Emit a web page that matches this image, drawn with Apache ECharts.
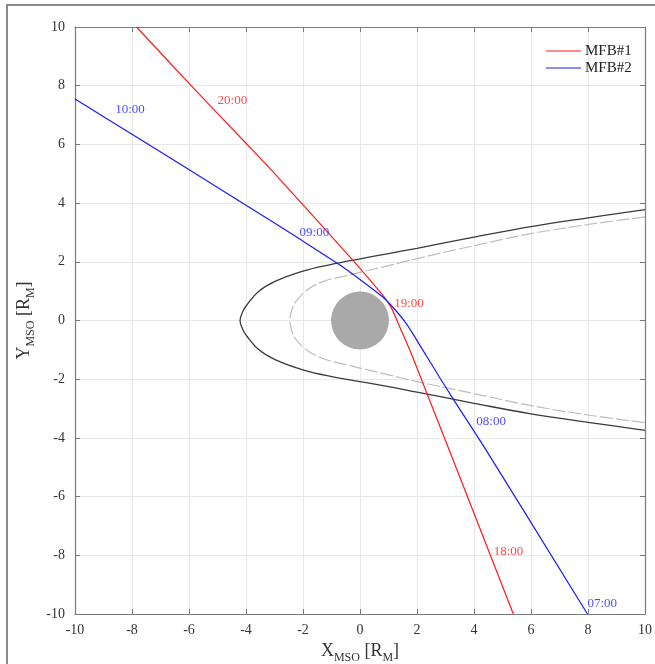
<!DOCTYPE html>
<html>
<head>
<meta charset="utf-8">
<script src="https://cdn.jsdelivr.net/npm/echarts@6/dist/echarts.min.js"></script>
<style>
html,body{margin:0;padding:0;background:#fff;}
#chart{width:655px;height:664px;}
</style>
</head>
<body>
<div id="chart"></div>
<script>
// ---- data ----
const mfb1X = [-7.84, -6, -4, -2.82, -0.2, 0.53, 0.86, 1.1, 1.44, 1.85, 2.37, 3.13, 5.38];
const mfb1Y = [10, 8.08, 6.04, 4.82, 2.0, 1.17, 0.79, 0.43, -0.32, -1.25, -2.54, -4.41, -10];

const mfb2X = [-10, -4, -2.06, -0.72, -0.13, 0.8, 1.2, 1.62, 2.2, 2.8, 3.3, 4.42, 7.98];
const mfb2Y = [7.55, 3.93, 2.74, 1.9, 1.49, 0.8, 0.4, -0.1, -1.0, -1.95, -2.72, -4.41, -10];

const shockX = [10, 8, 6, 4, 2, 1, 0, -1, -2, -2.98, -3.57, -3.98, -4.1, -4.21, -4.1, -3.98, -3.57, -2.98, -2, -1, 0, 1, 2, 4, 6, 8, 10];
const shockY = [3.78, 3.5, 3.2, 2.84, 2.46, 2.28, 2.1, 1.91, 1.68, 1.33, 0.98, 0.52, 0.33, 0, -0.33, -0.52, -0.98, -1.33, -1.68, -1.91, -2.08, -2.25, -2.44, -2.82, -3.18, -3.47, -3.74];

const mpX = [10, 8, 6, 4, 2, 1, 0, -0.5, -1.23, -1.81, -2.22, -2.38, -2.46, -2.38, -2.22, -1.81, -1.23, -0.5, 0, 1, 2, 4, 6, 8, 10];
const mpY = [3.53, 3.27, 2.96, 2.55, 2.11, 1.87, 1.64, 1.52, 1.35, 1.07, 0.68, 0.4, 0, -0.4, -0.68, -1.05, -1.32, -1.5, -1.62, -1.85, -2.08, -2.49, -2.9, -3.22, -3.48];

const planetCenter = [0, 0];
const planetRadius = 1;

const timeText = ['10:00', '20:00', '09:00', '19:00', '08:00', '18:00', '07:00'];
const timeX = [-8.07, -4.48, -1.6, 1.72, 4.6, 5.21, 8.5];
const timeY = [7.2, 7.51, 3.0, 0.57, -3.45, -7.88, -9.66];
const timeSeries = [2, 1, 2, 1, 2, 1, 2];

const axisTicks = [-10, -8, -6, -4, -2, 0, 2, 4, 6, 8, 10];

// ---- build ----
const zip = (xs, ys) => xs.map((x, i) => [x, ys[i]]);
const RED = '#ff1a1a', BLUE = '#1a1aff';
const FONT = 'Liberation Serif';

const chart = echarts.init(document.getElementById('chart'), null, {renderer: 'canvas'});

const baseAxis = {
  min: axisTicks[0], max: axisTicks[axisTicks.length - 1], interval: 2,
  axisLine: {show: true, onZero: false, lineStyle: {color: '#7a7a7a', width: 1.2}},
  axisTick: {show: true, inside: true, length: 5, lineStyle: {color: '#7a7a7a'}},
  axisLabel: {show: true, fontFamily: FONT, fontSize: 14, color: '#333', showMinLabel: true, showMaxLabel: true},
  splitLine: {show: true, lineStyle: {color: '#e8e8e8', width: 1}}
};
const mirrorAxis = (pos) => Object.assign({}, baseAxis, {
  position: pos,
  axisLabel: {show: false},
  splitLine: {show: false}
});

const rich = {
  m: {fontFamily: FONT, fontSize: 18, color: '#333', lineHeight: 26, verticalAlign: 'middle'},
  s: {fontFamily: FONT, fontSize: 12, color: '#333', lineHeight: 12, verticalAlign: 'bottom'}
};

const option = {
  backgroundColor: '#fff',
  animation: false,
  grid: {left: 75, right: 10, top: 27, bottom: 50, containLabel: false, outerBoundsMode: 'none'},
  graphic: [{
    type: 'rect', shape: {x: 7, y: 5, width: 700, height: 700},
    style: {fill: 'none', stroke: '#8a8a8a', lineWidth: 2}, silent: true
  }],
  legend: {
    data: ['MFB#1', 'MFB#2'], orient: 'vertical', left: 541, top: 38,
    icon: 'rect', itemWidth: 35, itemHeight: 1.2, itemGap: 1,
    textStyle: {fontFamily: FONT, fontSize: 15, color: '#222', lineHeight: 16, padding: [0, 0, 0, -1]}
  },
  xAxis: [
    Object.assign({}, baseAxis, {
      type: 'value', position: 'bottom',
      axisLabel: Object.assign({}, baseAxis.axisLabel, {margin: 9}),
      name: '{m|X}{s|MSO}{m| [R}{s|M}{m|]}', nameLocation: 'middle', nameGap: 23,
      nameTextStyle: {rich: rich}
    }),
    Object.assign({type: 'value'}, mirrorAxis('top'))
  ],
  yAxis: [
    Object.assign({}, baseAxis, {
      type: 'value', position: 'left',
      axisLabel: Object.assign({}, baseAxis.axisLabel, {margin: 10}),
      name: '{m|Y}{s|MSO}{m| [R}{s|M}{m|]}', nameLocation: 'middle', nameGap: 38,
      nameMoveOverlap: false,
      nameTextStyle: {rich: rich}
    }),
    Object.assign({type: 'value'}, mirrorAxis('right'))
  ],
  series: [
    {
      name: 'bowshock', type: 'line', data: zip(shockX, shockY), smooth: 0.4,
      showSymbol: false, symbol: 'none', silent: true,
      lineStyle: {color: '#3a3a3a', width: 1.3}, z: 2
    },
    {
      name: 'magnetopause', type: 'line', data: zip(mpX, mpY), smooth: 0.4,
      showSymbol: false, symbol: 'none', silent: true,
      lineStyle: {color: '#bdbdbd', width: 1.2, type: [13, 3]}, z: 2
    },
    {
      name: 'planet', type: 'custom', silent: true, z: 3,
      data: [[planetCenter[0], planetCenter[1], planetRadius]],
      renderItem: function (params, api) {
        const c = api.coord([api.value(0), api.value(1)]);
        const ex = api.coord([api.value(0) + api.value(2), api.value(1)]);
        const ey = api.coord([api.value(0), api.value(1) + api.value(2)]);
        const r = ((ex[0] - c[0]) + (c[1] - ey[1])) / 2;
        return {type: 'circle', shape: {cx: c[0], cy: c[1], r: r}, style: {fill: '#a9a9a9'}};
      }
    },
    {
      name: 'MFB#1', type: 'line', data: zip(mfb1X, mfb1Y), smooth: 0.3,
      showSymbol: false, symbol: 'none',
      itemStyle: {color: RED}, lineStyle: {color: RED, width: 1.2}, z: 4
    },
    {
      name: 'MFB#2', type: 'line', data: zip(mfb2X, mfb2Y), smooth: 0.3,
      showSymbol: false, symbol: 'none',
      itemStyle: {color: BLUE}, lineStyle: {color: BLUE, width: 1.2}, z: 4
    },
    {
      name: 'times', type: 'scatter', symbolSize: 0, silent: true, z: 5,
      data: timeText.map((t, i) => ({
        value: [timeX[i], timeY[i]],
        label: {
          show: true, position: 'inside', formatter: t,
          fontFamily: FONT, fontSize: 13, color: timeSeries[i] === 1 ? RED : BLUE
        }
      }))
    }
  ]
};
chart.setOption(option);
</script>
</body>
</html>
